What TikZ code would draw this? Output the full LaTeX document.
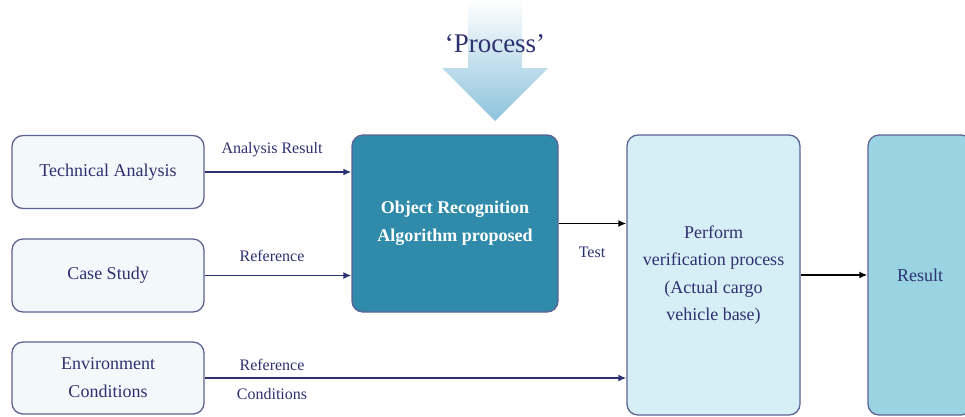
\documentclass[tikz,border=0pt]{standalone}
\usepackage{fontspec}
\setmainfont{Liberation Serif}
\usetikzlibrary{arrows.meta,shadings}
\definecolor{navy}{HTML}{2E3170}
\definecolor{edgec}{HTML}{5E6394}
\definecolor{lightbox}{HTML}{F3F8FB}
\definecolor{oradark}{HTML}{2F8BA9}
\definecolor{perfc}{HTML}{D6EEF6}
\definecolor{resc}{HTML}{9AD3E1}
\definecolor{arrowblue}{HTML}{8CC2DC}
\tikzset{
  inbox/.style={draw=edgec, line width=1.3pt, fill=lightbox, rounded corners=11pt,
    minimum width=192pt, minimum height=73pt, text=navy, font=\fontsize{18}{28}\selectfont, align=center, inner sep=0pt},
  bigbox/.style={draw=edgec, line width=1.3pt, rounded corners=11pt, inner sep=0pt, align=center,
    font=\fontsize{18}{27.5}\selectfont},
  lbl/.style={text=navy, font=\fontsize{16}{29}\selectfont, inner sep=1pt, align=center},
  navyarrow/.style={draw=navy, line width=1.8pt, -{Latex[length=8pt,width=7pt]}},
  blackarrow/.style={draw=black, line width=1.8pt, -{Latex[length=8pt,width=7pt]}}
}
\begin{document}
\begin{tikzpicture}[x=1pt,y=-1pt]
\clip (0,0) rectangle (965,416);
\fill[white] (0,0) rectangle (965,416);
% big process arrow
\shade[top color=white, bottom color=arrowblue]
  (468,0) -- (522,0) -- (522,68) -- (548,68) -- (495,121) -- (442,68) -- (468,68) -- cycle;
\node[text=navy, font=\fontsize{27}{30}\selectfont, inner sep=0pt] (proc) at (495,44) {`Process'};
% left boxes
\node[inbox] (ta) at (108,172) {Technical Analysis};
\node[inbox] (cs) at (108,275.5) {Case Study};
\node[inbox, minimum height=72pt] (env) at (108,378) {Environment\\Conditions};
% main boxes
\node[bigbox, fill=oradark, text=white, minimum width=206pt, minimum height=177pt,
  font=\bfseries\fontsize{18}{28}\selectfont] (ora) at (455,223.5) {Object Recognition\\Algorithm proposed};
\node[bigbox, fill=perfc, text=navy, minimum width=173pt, minimum height=280pt] (perf) at (713.5,275)
  {Perform\\verification process\\(Actual cargo\\vehicle base)};
\node[bigbox, fill=resc, text=navy, minimum width=104pt, minimum height=280pt] (res) at (920,275) {Result};
% connectors
\draw[navyarrow] (ta.east) -- (ta.east -| ora.west);
\draw[navyarrow] (cs.east) -- (cs.east -| ora.west);
\draw[navyarrow] (env.east) -- (env.east -| perf.west);
\draw[blackarrow] (ora.east) -- (ora.east -| perf.west);
\draw[blackarrow] (perf.east) -- (res.west);
% labels
\node[lbl] (l1) at (272,150) {Analysis Result};
\node[lbl] (l2) at (272,256) {Reference};
\node[lbl] (l3) at (272,379.5) {Reference\\Conditions};
\node[lbl] (l4) at (592,252) {Test};
\end{tikzpicture}
\end{document}
